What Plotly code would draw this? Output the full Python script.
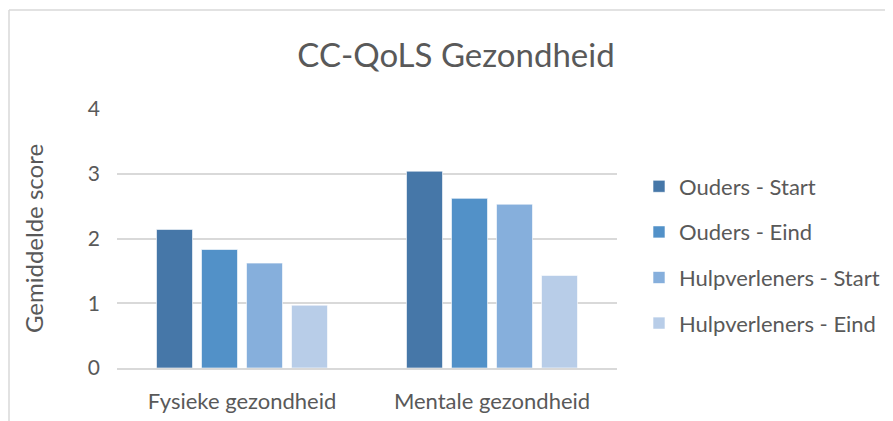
import plotly.graph_objects as go

categories = ["Fysieke gezondheid", "Mentale gezondheid"]
series_names = ["Ouders - Start", "Ouders - Eind", "Hulpverleners - Start", "Hulpverleners - Eind"]
ouders_start = [2.14, 3.04]
ouders_eind = [1.83, 2.62]
hulp_start = [1.62, 2.53]
hulp_eind = [0.97, 1.43]
y_ticks = [0, 1, 2, 3, 4]

values = [ouders_start, ouders_eind, hulp_start, hulp_eind]
colors = ["#4677A8", "#5291C8", "#86AFDC", "#B8CDE8"]

FONT = "Lato"
GRAY = "#595959"

fig = go.Figure()
for i, (name, vals, col) in enumerate(zip(series_names, values, colors)):
    fig.add_trace(go.Bar(
        x=categories, y=vals, name=name, legendgroup=f"g{i}",
        marker=dict(color=col, line=dict(color="rgba(255,255,255,0.6)", width=1)),
    ))

# page body has an 8px margin: work in screen coordinates, shifted by OFF
OFF = 8
W, H = 893 - OFF, 421 - OFF
# screen-space plot area
SL, SR, ST, SB = 117, 617, 109, 368
L, T = SL - OFF, ST - OFF
R, B = W - (SR - OFF), H - (SB - OFF)
pw, ph = W - L - R, H - T - B

def px2x(px):
    return (px - OFF - L) / pw

def py2y(py):
    return (SB - py) / ph

fig.update_layout(
    width=W, height=H,
    margin=dict(l=L, r=R, t=T, b=B, autoexpand=False),
    paper_bgcolor="white", plot_bgcolor="white",
    font=dict(family=FONT, color=GRAY, size=21),
    title=dict(text="CC-QoLS Gezondheid", x=px2x(456), xref="paper", xanchor="center",
               y=1 - (55 - OFF) / H, yanchor="middle",
               font=dict(family=FONT, size=33, color=GRAY)),
    barmode="group", bargap=0.28, bargroupgap=0.2,
    showlegend=True,
    legend=dict(x=px2x(639), xanchor="left", y=py2y(255), yanchor="middle",
                font=dict(family=FONT, size=22, color=GRAY),
                tracegroupgap=14, itemwidth=30, bgcolor="rgba(0,0,0,0)"),
    xaxis=dict(showgrid=False, showline=True, linecolor="#D9D9D9", linewidth=1.5,
               ticks="", tickfont=dict(family=FONT, size=22, color=GRAY), ticklabelstandoff=13),
    yaxis=dict(range=[0, 4], tickvals=y_ticks, showgrid=True, gridcolor="#D9D9D9", gridwidth=1.5,
               zeroline=False, showline=False, ticks="", ticklabelstandoff=16,
               tickfont=dict(family=FONT, size=21, color=GRAY),
               title=dict(text="Gemiddelde score", font=dict(family=FONT, size=24, color=GRAY), standoff=37)),
    shapes=[
        dict(type="line", xref="paper", yref="paper", x0=px2x(OFF + 1), x1=px2x(OFF + 1), y0=py2y(10), y1=py2y(440),
             line=dict(color="#D9D9D9", width=1.5)),
        dict(type="line", xref="paper", yref="paper", x0=px2x(OFF + 1), x1=px2x(910), y0=py2y(10), y1=py2y(10),
             line=dict(color="#D9D9D9", width=1.5)),
    ],
)

fig.write_html("out.html")
